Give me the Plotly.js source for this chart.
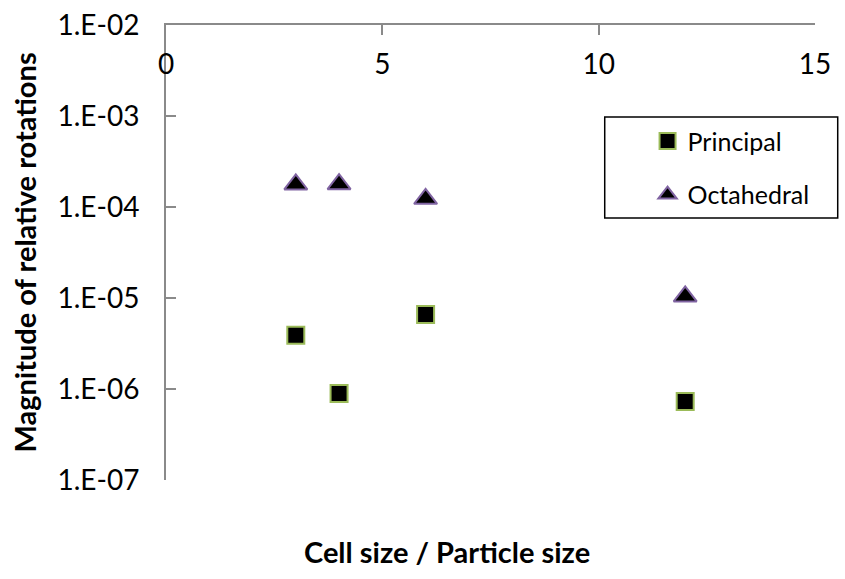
<!DOCTYPE html>
<html>
<head>
<meta charset="utf-8">
<script src="https://cdn.plot.ly/plotly-3.0.1.min.js"></script>
<style>html,body{margin:0;padding:0;background:#fff}#chart{width:845px;height:579px}</style>
</head>
<body>
<div id="chart"></div>
<script>
// Data
const cellSize = [3, 4, 6, 12];
const principal = [3.9e-6, 8.9e-7, 6.6e-6, 7.3e-7];
const octahedral = [1.77e-4, 1.78e-4, 1.23e-4, 1.04e-5];
const seriesNames = ['Principal', 'Octahedral'];
const yTickVals = [1e-7, 1e-6, 1e-5, 1e-4, 1e-3, 1e-2];
const yTickText = ['1.E-07', '1.E-06', '1.E-05', '1.E-04', '1.E-03', '1.E-02'];
const xTickVals = [0, 5, 10, 15];
const xTitle = 'Cell size / Particle size';
const yTitle = 'Magnitude of relative rotations';

const FONT = 'Lato, Carlito, Calibri, sans-serif';
const AXC = '#8a8a8a';

const traces = [
  {
    x: cellSize, y: principal, name: seriesNames[0], type: 'scatter', mode: 'markers',
    legendgroup: 'a',
    marker: {symbol: 'square', size: 17, color: '#000000', line: {color: '#9bbb59', width: 2}}
  },
  {
    x: cellSize, y: octahedral, name: seriesNames[1], type: 'scatter', mode: 'markers',
    legendgroup: 'b',
    marker: {symbol: 'triangle-up', size: 20, color: '#000000', line: {color: '#8064a2', width: 2}}
  }
];

const layout = {
  width: 845, height: 579,
  margin: {l: 166, r: 30, t: 25, b: 99},
  paper_bgcolor: '#ffffff', plot_bgcolor: '#ffffff',
  font: {family: FONT, color: '#000000', size: 28},
  showlegend: true,
  legend: {
    x: 0.742, xanchor: 'left', y: 0.795, yanchor: 'top',
    bgcolor: 'rgba(0,0,0,0)', borderwidth: 0,
    font: {family: FONT, size: 25, color: '#000000'},
    traceorder: 'grouped', tracegroupgap: 18
  },
  xaxis: {
    range: [0, 15], side: 'top',
    tickvals: xTickVals, ticks: 'inside', ticklen: 10, tickwidth: 2, tickcolor: AXC,
    ticklabelposition: 'inside', ticklabeloverflow: 'allow', ticklabelstandoff: 22,
    showline: true, linecolor: AXC, linewidth: 2,
    showgrid: false, zeroline: false,
    tickfont: {family: FONT, size: 28, color: '#000000'}
  },
  yaxis: {
    type: 'log', range: [-7, -2],
    tickvals: yTickVals, ticktext: yTickText,
    ticks: 'inside', ticklen: 10, tickwidth: 2, tickcolor: AXC,
    ticklabelstandoff: 19,
    showline: true, linecolor: AXC, linewidth: 2,
    showgrid: false, zeroline: false,
    tickfont: {family: FONT, size: 28, color: '#000000'},
    title: {text: '<b>' + yTitle + '</b>', font: {family: FONT, size: 29, color: '#000000'}, standoff: 12}
  },
  annotations: [
    {text: '<b>' + xTitle + '</b>', xref: 'paper', yref: 'paper', x: 0.433, y: -0.158,
     xanchor: 'center', yanchor: 'middle', showarrow: false,
     font: {family: FONT, size: 29, color: '#000000'}}
  ],
  shapes: [
    {type: 'rect', xref: 'paper', yref: 'paper', x0: 0.676, x1: 1.035, y0: 0.576, y1: 0.798,
     line: {color: '#000000', width: 1.5}, fillcolor: 'rgba(0,0,0,0)'}
  ]
};

Plotly.newPlot('chart', traces, layout, {displayModeBar: false, staticPlot: true});
</script>
</body>
</html>
